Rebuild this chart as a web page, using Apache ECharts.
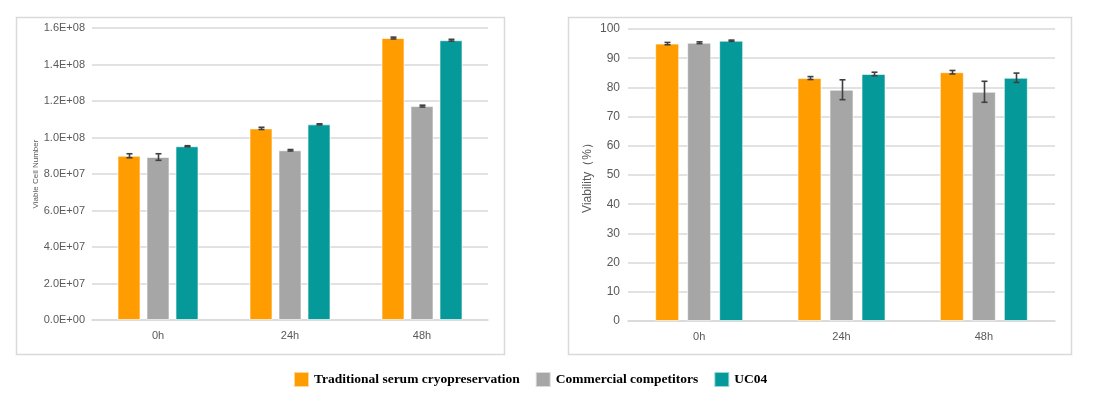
<!DOCTYPE html>
<html>
<head>
<meta charset="utf-8">
<script src="https://cdn.jsdelivr.net/npm/echarts@6/dist/echarts.min.js"></script>
<style>
  html, body { margin: 0; padding: 0; background: #fff; }
  #main { width: 1104px; height: 398px; }
</style>
</head>
<body>
<div id="main"></div>
<script>
// categories + series names
var hours = ['0h', '24h', '48h'];
var groups = ['Traditional serum cryopreservation', 'Commercial competitors', 'UC04'];
var colors = ['#FF9C00', '#A6A6A6', '#06999A'];

// left chart: viable cell number
var cellTrad = [9.0e7, 1.05e8, 1.545e8];
var cellComm = [8.93e7, 9.3e7, 1.172e8];
var cellUC04 = [9.52e7, 1.072e8, 1.533e8];
var cellTradErr = [1.1e6, 6e5, 5e5];
var cellCommErr = [1.8e6, 4e5, 5e5];
var cellUC04Err = [3e5, 3e5, 5e5];

// right chart: viability (%)
var viaTrad = [95.0, 83.2, 85.2];
var viaComm = [95.3, 79.2, 78.5];
var viaUC04 = [96.0, 84.6, 83.3];
var viaTradErr = [0.4, 0.5, 0.6];
var viaCommErr = [0.3, 3.4, 3.6];
var viaUC04Err = [0.2, 0.6, 1.6];

// bar width / gap per chart (left, right)
var BAR_W = [23, 24];
var BAR_GAP = [6, 8];

function sciLabel(v) {
  var s = v.toExponential(1).split('e');
  var exp = parseInt(s[1], 10);
  var sign = exp < 0 ? '-' : '+';
  var e = Math.abs(exp);
  return s[0] + 'E' + sign + (e < 10 ? '0' + e : e);
}

// error bar drawn through the axis scale, shifted to the bar slot
function errSeries(vals, errs, slot, axisIdx) {
  var data = vals.map(function (v, i) { return [i, v - errs[i], v + errs[i]]; });
  return {
    type: 'custom',
    xAxisIndex: axisIdx,
    yAxisIndex: axisIdx,
    z: 10,
    silent: true,
    data: data,
    renderItem: function (params, api) {
      var lo = api.coord([api.value(0), api.value(1)]);
      var hi = api.coord([api.value(0), api.value(2)]);
      var dx = (slot - 1) * (BAR_W[axisIdx] + BAR_GAP[axisIdx]);
      var x = Math.round(lo[0] + dx) + 0.5;
      var cap = 3;
      var st = { stroke: '#404040', lineWidth: 1.6 };
      return {
        type: 'group',
        children: [
          { type: 'line', shape: { x1: x, y1: lo[1], x2: x, y2: hi[1] }, style: st },
          { type: 'line', shape: { x1: x - cap, y1: lo[1], x2: x + cap, y2: lo[1] }, style: st },
          { type: 'line', shape: { x1: x - cap, y1: hi[1], x2: x + cap, y2: hi[1] }, style: st }
        ]
      };
    }
  };
}

function barSeries(name, vals, idx, axisIdx) {
  return {
    name: name,
    type: 'bar',
    xAxisIndex: axisIdx,
    yAxisIndex: axisIdx,
    barWidth: BAR_W[axisIdx],
    barGap: (BAR_GAP[axisIdx] / BAR_W[axisIdx] * 100) + '%',
    itemStyle: { color: colors[idx], borderColor: 'rgba(255,255,255,0.6)', borderWidth: 1 },
    data: vals
  };
}

var axisLabelStyle = { color: '#595959', fontFamily: 'Liberation Sans', fontSize: 11 };
var gridLine = { lineStyle: { color: '#D9D9D9', width: 1.5 } };

var chart = echarts.init(document.getElementById('main'));
chart.setOption({
  backgroundColor: '#fff',
  animation: false,
  color: colors,
  graphic: [
    { type: 'rect', left: 14, top: 15, shape: { width: 488, height: 337 }, style: { fill: 'none', stroke: '#D9D9D9', lineWidth: 1.5 }, z: -1 },
    { type: 'rect', left: 566, top: 15, shape: { width: 503, height: 337 }, style: { fill: 'none', stroke: '#D9D9D9', lineWidth: 1.5 }, z: -1 }
  ],
  legend: {
    data: groups,
    top: 366,
    left: 288,
    itemWidth: 15,
    itemHeight: 15,
    itemGap: 15,
    icon: 'rect',
    textStyle: { fontFamily: 'Liberation Serif', fontWeight: 'bold', fontSize: 13.5, color: '#000' }
  },
  grid: [
    { left: 92, right: 616, top: 28, bottom: 78 },
    { left: 628, right: 49, top: 29, bottom: 77 }
  ],
  xAxis: [
    {
      gridIndex: 0, type: 'category', data: hours,
      axisLine: gridLine, axisTick: { show: false },
      axisLabel: Object.assign({ margin: 10 }, axisLabelStyle)
    },
    {
      gridIndex: 1, type: 'category', data: hours,
      axisLine: gridLine, axisTick: { show: false },
      axisLabel: Object.assign({ margin: 10 }, axisLabelStyle)
    }
  ],
  yAxis: [
    {
      gridIndex: 0, type: 'value', min: 0, max: 1.6e8, interval: 2e7,
      name: 'Viable Cell Number', nameLocation: 'middle', nameGap: 52,
      nameTextStyle: { color: '#595959', fontFamily: 'Liberation Sans', fontSize: 8 },
      axisLine: { show: false }, axisTick: { show: false },
      axisLabel: Object.assign({ formatter: sciLabel, margin: 7 }, axisLabelStyle),
      splitLine: gridLine
    },
    {
      gridIndex: 1, type: 'value', min: 0, max: 100, interval: 10,
      name: 'Viability（%）', nameLocation: 'middle', nameGap: 34,
      nameTextStyle: { color: '#595959', fontFamily: 'Liberation Sans', fontSize: 12 },
      axisLine: { show: false }, axisTick: { show: false },
      axisLabel: Object.assign({ margin: 8 }, axisLabelStyle, { fontSize: 12 }),
      splitLine: gridLine
    }
  ],
  series: [
    barSeries(groups[0], cellTrad, 0, 0),
    barSeries(groups[1], cellComm, 1, 0),
    barSeries(groups[2], cellUC04, 2, 0),
    barSeries(groups[0], viaTrad, 0, 1),
    barSeries(groups[1], viaComm, 1, 1),
    barSeries(groups[2], viaUC04, 2, 1),
    errSeries(cellTrad, cellTradErr, 0, 0),
    errSeries(cellComm, cellCommErr, 1, 0),
    errSeries(cellUC04, cellUC04Err, 2, 0),
    errSeries(viaTrad, viaTradErr, 0, 1),
    errSeries(viaComm, viaCommErr, 1, 1),
    errSeries(viaUC04, viaUC04Err, 2, 1)
  ]
});
</script>
</body>
</html>
